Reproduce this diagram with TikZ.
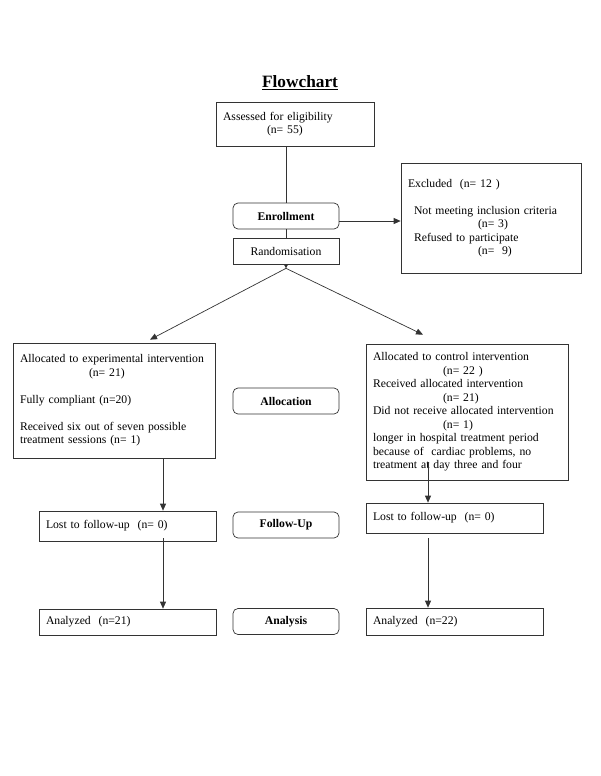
\documentclass[tikz,border=0pt]{standalone}
\usepackage{fontspec}
\setmainfont{Liberation Serif}
\usetikzlibrary{arrows.meta}

\begin{document}
\begin{tikzpicture}[x=1pt, y=-1pt,
    box/.style={draw=black!80, line width=0.7pt, align=left, inner xsep=7pt, inner ysep=4pt, font=\fontsize{11.7}{13.5}\selectfont},
    stage/.style={draw=black!80, line width=0.7pt, rounded corners=5pt, minimum width=106pt, minimum height=26pt, inner sep=0pt, font=\fontsize{11.7}{13.5}\selectfont\bfseries},
    link/.style={draw=black!80, line width=0.7pt},
    arr/.style={link, -{Triangle[length=7pt,width=6pt]}}]
    \useasboundingbox (0,0) rectangle (600,776);
    \node[anchor=base, font=\fontsize{17.3}{20}\selectfont\bfseries] (title) at (300,88) {\underline{Flowchart}};
    \node[box, text width=144pt, minimum height=44pt] (assess) at (295,124) {Assessed for eligibility\\\hspace*{44pt}(n= 55)};
    \node[stage] (enrol) at (286,216) {Enrollment};
    \node[stage, sharp corners, font=\fontsize{11.7}{13.5}\selectfont] (rand) at (286,251) {Randomisation};
    \node[box, text width=166pt, minimum height=110pt] (excl) at (491,218) {Excluded~~(n= 12~)\\[13.5pt]\hspace*{6pt}Not meeting inclusion criteria\\\hspace*{70pt}(n= 3)\\\hspace*{6pt}Refused to participate\\\hspace*{70pt}(n=~~9)};
    \node[box, text width=188pt, minimum height=115pt] (expbox) at (114,400.5) {Allocated to experimental intervention\\\hspace*{69pt}(n= 21)\\[13.5pt]Fully compliant (n=20)\\[13.5pt]Received six out of seven possible\\treatment sessions (n= 1)};
    \node[box, text width=188pt, minimum height=136pt] (ctrlbox) at (467,412) {Allocated to control intervention\\\hspace*{70pt}(n= 22~)\\Received allocated intervention\\\hspace*{70pt}(n= 21)\\Did not receive allocated intervention\\\hspace*{70pt}(n= 1)\\longer in hospital treatment period\\because of~~cardiac problems, no\\treatment at day three and four};
    \node[stage] (alloc) at (286,401) {Allocation};
    \node[box, text width=163pt, minimum height=30pt] (lostL) at (127.5,526) {Lost to follow-up~~(n= 0)};
    \node[stage] (follow) at (286,525) {Follow-Up};
    \node[box, text width=163pt, minimum height=30pt] (lostR) at (454.5,518) {Lost to follow-up~~(n= 0)};
    \node[box, text width=163pt, minimum height=26pt] (anaL) at (127.5,622) {Analyzed~~(n=21)};
    \node[stage] (analysis) at (286,621.5) {Analysis};
    \node[box, text width=163pt, minimum height=27pt] (anaR) at (454.5,621.5) {Analyzed~~(n=22)};
    \coordinate (split) at ([yshift=-4pt]rand.south);
    \draw[link] (enrol.north) -- (enrol.north |- assess.south);
    \draw[link] (enrol.south) -- (rand.north);
    \draw[arr] ([yshift=-5pt]enrol.east) -- ([yshift=-5pt]enrol.east -| excl.west);
    \draw[link, -{Triangle[length=4pt,width=4pt]}] (rand.south) -- (split);
    \draw[arr] (split) -- ([xshift=36pt,yshift=3pt]expbox.north);
    \draw[arr] (split) -- ([xshift=-44pt,yshift=9pt]ctrlbox.north);
    \draw[arr] ([xshift=49pt]expbox.south) -- ([xshift=35.5pt]lostL.north);
    \draw[arr] ([xshift=35.5pt,yshift=3pt]lostL.south) -- ([xshift=35.5pt]anaL.north);
    \draw[arr] ([xshift=-39pt,yshift=18pt]ctrlbox.south) -- ([xshift=-26.5pt]lostR.north);
    \draw[arr] ([xshift=-26.5pt,yshift=-5pt]lostR.south) -- ([xshift=-26.5pt]anaR.north);
\end{tikzpicture}
\end{document}
